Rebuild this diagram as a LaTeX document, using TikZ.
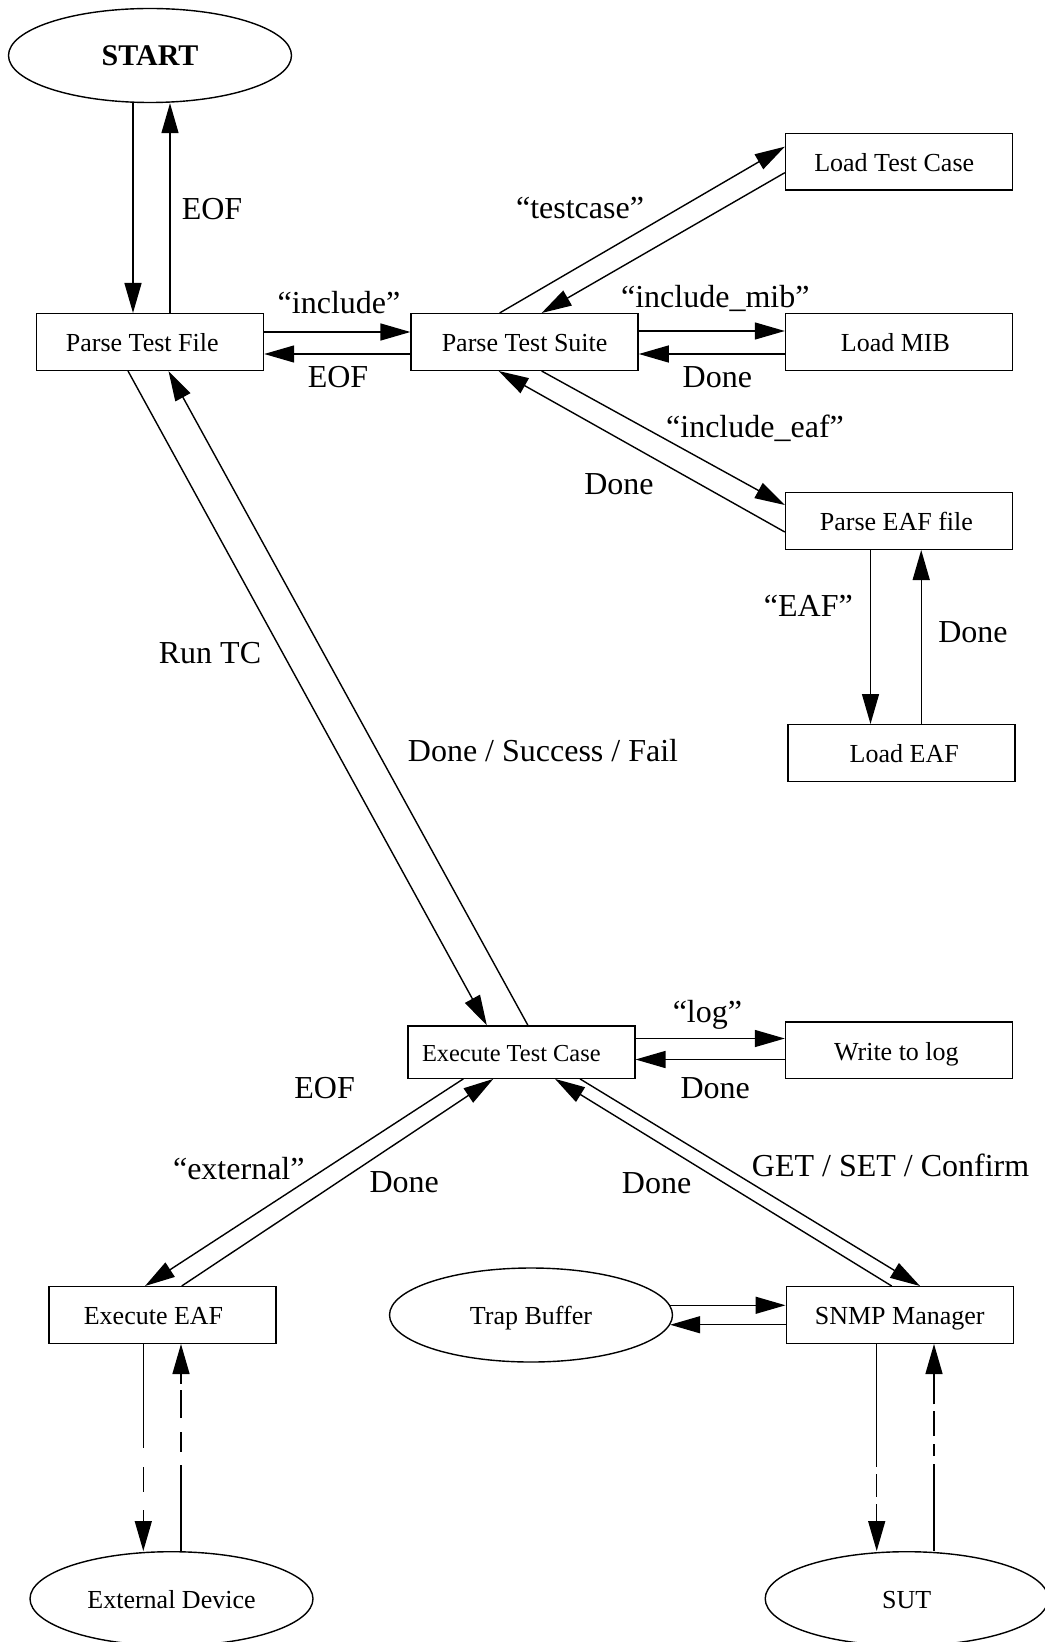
\documentclass[tikz,border=0pt]{standalone}
\usepackage{fontspec}
\setmainfont{Liberation Serif}
\usetikzlibrary{positioning,calc,arrows.meta,shapes.geometric}

\begin{document}
\begin{tikzpicture}[
    x=0.5pt, y=-0.5pt,
    box/.style={rectangle, draw, line width=0.7pt, minimum width=113.5pt, minimum height=28.3pt, inner sep=0pt, text height=9.8pt, text depth=0pt, font=\fontsize{13}{15}\selectfont},
    oval/.style={ellipse, draw, line width=0.7pt, minimum width=141.5pt, minimum height=47pt, inner sep=0pt, text height=9.8pt, text depth=0pt, font=\fontsize{13}{15}\selectfont},
    arr/.style={line width=0.7pt, -{Triangle[length=15pt,width=8.5pt]}},
    lbl/.style={inner sep=0pt, font=\fontsize{16}{19}\selectfont}
]
\useasboundingbox (0,0) rectangle (1044,1642);

% States
\node[oval, font=\fontsize{15}{18}\selectfont\bfseries] (start) at (150,55.5) {START};
\node[box] (ptf) at (150,342) {\kern-3.9pt Parse Test File\kern3.9pt};
\node[box] (pts) at (524.6,342) {Parse Test Suite};
\node[box] (ltc) at (899,161.7) {\kern-2.4pt Load Test Case\kern2.4pt};
\node[box] (lmib) at (899,342) {\kern-1.8pt Load MIB\kern1.8pt};
\node[box] (peaf) at (899,521) {\kern-1.3pt Parse EAF file\kern1.3pt};
\node[box] (leaf) at (901.6,753) {\kern1.3pt Load EAF\kern-1.3pt};
\node[box, minimum height=26.2pt, font=\fontsize{12.2}{14}\selectfont] (exec) at (521.3,1052) {\kern-5pt Execute Test Case\kern5pt};
\node[box] (wlog) at (899,1050.3) {\kern-1.3pt Write to log\kern1.3pt};
\node[box] (eeaf) at (162.5,1315) {\kern-4.5pt Execute EAF\kern4.5pt};
\node[oval] (trap) at (531,1315) {Trap Buffer};
\node[box] (snmp) at (899.7,1315) {SNMP Manager};
\node[oval] (ext) at (171.5,1598.7) {External Device};
\node[oval] (sut) at (906.7,1598.7) {SUT};

% START <-> Parse Test File
\draw[arr] ($(start.south)+(-17,0)$) coordinate (a) -- (a |- ptf.north);
\draw[arr] ($(ptf.north)+(20,0)$) coordinate (a) -- (a |- start.south);

% Parse Test File <-> Parse Test Suite
\draw[arr] ($(ptf.east)+(0,-10)$) coordinate (a) -- (a -| pts.west);
\draw[arr] ($(pts.west)+(0,12)$) coordinate (a) -- (a -| ptf.east);

% Parse Test Suite <-> loaders
\draw[arr] ($(pts.north)+(-25,0)$) -- ($(ltc.west)+(0,-15)$);
\draw[arr] ($(ltc.west)+(0,11)$) -- ($(pts.north)+(17,0)$);
\draw[arr] ($(pts.east)+(0,-11)$) coordinate (a) -- (a -| lmib.west);
\draw[arr] ($(lmib.west)+(0,12)$) coordinate (a) -- (a -| pts.east);
\draw[arr] ($(pts.south)+(17,0)$) -- ($(peaf.west)+(0,-16)$);
\draw[arr] ($(peaf.west)+(0,11)$) -- ($(pts.south)+(-26,0)$);

% Parse EAF file <-> Load EAF
\draw[arr] ($(peaf.south)+(-28.5,0)$) coordinate (a) -- (a |- leaf.north);
\draw[arr] ($(leaf.north)+(19.6,0)$) coordinate (a) -- (a |- peaf.south);

% Parse Test File <-> Execute Test Case
\draw[arr] ($(ptf.south)+(-22,0)$) -- ($(exec.north)+(-34.5,0)$);
\draw[arr] ($(exec.north)+(6.5,0)$) -- ($(ptf.south)+(18.5,0)$);

% Execute Test Case <-> Write to log
\draw[arr] ($(exec.east)+(0,-13.5)$) coordinate (a) -- (a -| wlog.west);
\draw[arr] ($(wlog.west)+(0,9.2)$) coordinate (a) -- (a -| exec.east);

% Execute Test Case <-> Execute EAF / SNMP Manager
\draw[arr] ($(exec.south)+(-58,0)$) -- ($(eeaf.north)+(-17.5,0)$);
\draw[arr] ($(eeaf.north)+(19.2,0)$) -- ($(exec.south)+(-28,0)$);
\draw[arr] ($(exec.south)+(58.7,0)$) -- ($(snmp.north)+(20.3,0)$);
\draw[arr] ($(snmp.north)+(-8,0)$) -- ($(exec.south)+(33.7,0)$);

% Trap Buffer <-> SNMP Manager
\draw[arr] (trap.4) coordinate (a) -- (a -| snmp.west);
\draw[arr] (trap.-4 -| snmp.west) -- (trap.-4);

% Execute EAF <-> External Device (partly dashed)
\draw[arr, dash pattern=on 52pt off 9.5pt on 12.5pt off 9pt on 200pt] ($(eeaf.south)+(-19.2,0)$) coordinate (a) -- (a |- ext.north);
\coordinate (b) at ($(eeaf.south)+(18.5,0)$);
\draw[arr, dash pattern=on 43pt off 6.7pt on 10pt off 6.7pt on 14pt off 3.3pt on 200pt] (b |- ext.north) -- (b);

% SNMP Manager <-> SUT (partly dashed)
\draw[arr, dash pattern=on 61.7pt off 3.3pt on 11.7pt off 3.3pt on 200pt] ($(snmp.south)+(-23,0)$) coordinate (a) -- (a |- sut.north);
\coordinate (c) at ($(snmp.south)+(34.3,0)$);
\draw[arr, dash pattern=on 43.3pt off 4.2pt on 5.8pt off 4.2pt on 12.5pt off 3.3pt on 200pt] (c |- sut.north) -- (c);

% Transition labels
\node[lbl] (eof1) at (212,209) {EOF};
\node[lbl] (inc) at (339,302.6) {“include”};
\node[lbl] (eof2) at (338,377) {EOF};
\node[lbl] (tcase) at (580,208.4) {“testcase”};
\node[lbl] (imib) at (715.3,298) {“include\_mib”};
\node[lbl] (done1) at (717.3,377) {Done};
\node[lbl] (ieaf) at (755,428.5) {“include\_eaf”};
\node[lbl] (done2) at (619,483.8) {Done};
\node[lbl] (eaf) at (808.4,605.5) {“EAF”};
\node[lbl] (done3) at (972.9,632.5) {Done};
\node[lbl] (runtc) at (210,653.5) {Run TC};
\node[lbl] (dsf) at (543,750.8) {Done / Success / Fail};
\node[lbl] (log) at (707.4,1014.5) {“log”};
\node[lbl] (done4) at (715.2,1088) {Done};
\node[lbl] (eof3) at (324.6,1088) {EOF};
\node[lbl] (extl) at (238.8,1168.7) {“external”};
\node[lbl] (done5) at (404.2,1182.3) {Done};
\node[lbl] (done6) at (656.6,1183.3) {Done};
\node[lbl] (gsc) at (890.6,1165.5) {GET / SET / Confirm};

\end{tikzpicture}
\end{document}
